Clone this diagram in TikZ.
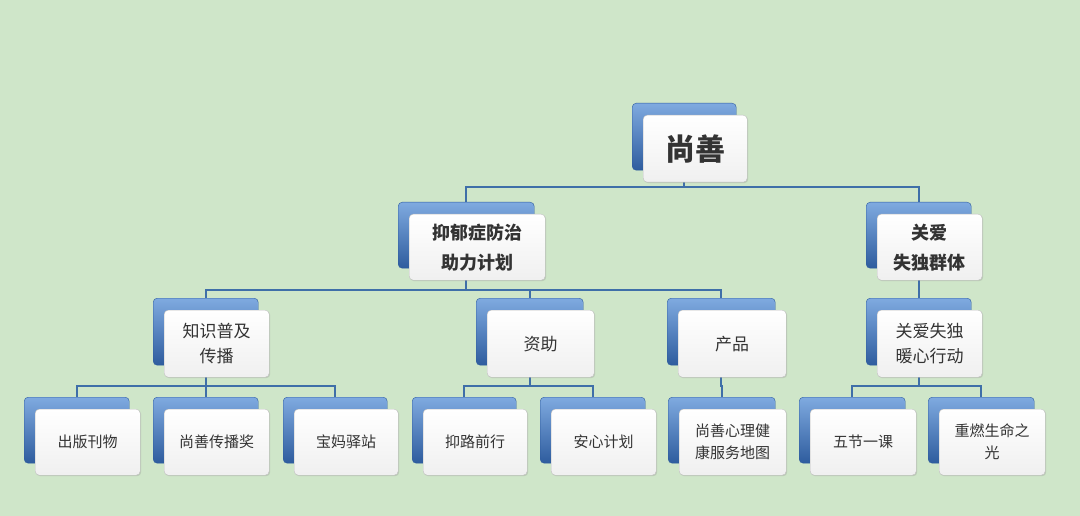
\documentclass[tikz,border=0pt]{standalone}
\usepackage{fontspec}
\setmainfont{Noto Sans CJK SC}
\usetikzlibrary{backgrounds,shadows}
\definecolor{bgc}{HTML}{CFE6C9}
\definecolor{lnc}{HTML}{3F6FA8}
\definecolor{btop}{HTML}{7FAAE0}
\definecolor{bbot}{HTML}{2E5C9E}
\tikzset{
 back/.style={rounded corners=4pt,top color=btop,bottom color=bbot,draw=bbot,anchor=north west,inner sep=0pt},
 front/.style={rounded corners=4pt,top color=white,bottom color=gray!12,draw=gray!50,anchor=north west,inner sep=0pt,align=center,drop shadow={opacity=0.25,shadow xshift=1pt,shadow yshift=-1pt},text=black!80},
 conn/.style={draw=lnc,line width=1.6pt},
 ft0/.style={font=\fontsize{30}{32}\selectfont\bfseries},
 ft1/.style={font=\fontsize{18}{30}\selectfont\bfseries},
 ft2/.style={font=\fontsize{17}{25}\selectfont},
 ft3/.style={font=\fontsize{15}{22}\selectfont}
}
\newcommand\mybox[7]{%
 \node[back,minimum width=#4pt,minimum height=#5pt] (#1b) at (#2,#3) {};
 \node[front,#6,minimum width=#4pt,minimum height=#5pt] (#1) at (#2+11,#3+12) {#7};}
\begin{document}
\begin{tikzpicture}[x=1pt,y=-1pt]
\useasboundingbox (0,0) rectangle (1080,516);
\mybox{root}{632}{103}{104}{67}{ft0}{尚善}
\mybox{a}{398}{202}{136}{66}{ft1}{抑郁症防治\\助力计划}
\mybox{b}{866}{202}{105}{66}{ft1}{关爱\\失独群体}
\mybox{a1}{153}{298}{105}{67}{ft2}{知识普及\\传播}
\mybox{a2}{476}{298}{107}{67}{ft2}{资助}
\mybox{a3}{667}{298}{108}{67}{ft2}{产品}
\mybox{b1}{866}{298}{105}{67}{ft2}{关爱失独\\暖心行动}
\mybox{l1}{24}{397}{105}{66}{ft3}{出版刊物}
\mybox{l2}{153}{397}{105}{66}{ft3}{尚善传播奖}
\mybox{l3}{283}{397}{104}{66}{ft3}{宝妈驿站}
\mybox{l4}{412}{397}{104}{66}{ft3}{抑路前行}
\mybox{l5}{540}{397}{105}{66}{ft3}{安心计划}
\mybox{l6}{668}{397}{107}{66}{ft3}{尚善心理健\\康服务地图}
\mybox{l7}{799}{397}{106}{66}{ft3}{五节一课}
\mybox{l8}{928}{397}{106}{66}{ft3}{重燃生命之\\光}
\begin{scope}[on background layer]
\fill[bgc] (0,0) rectangle (1080,516);
\foreach \p/\c/\y in {root/a/187,root/b/187,a/a1/290,a/a2/290,a/a3/290,b/b1/290,
 a1/l1/386,a1/l2/386,a1/l3/386,a2/l4/386,a2/l5/386,a3/l6/386,b1/l7/386,b1/l8/386}
 \draw[conn] (\p b.south) -- (\p b.south |- 0,\y) -| (\c b.north);
\end{scope}
\end{tikzpicture}
\end{document}
